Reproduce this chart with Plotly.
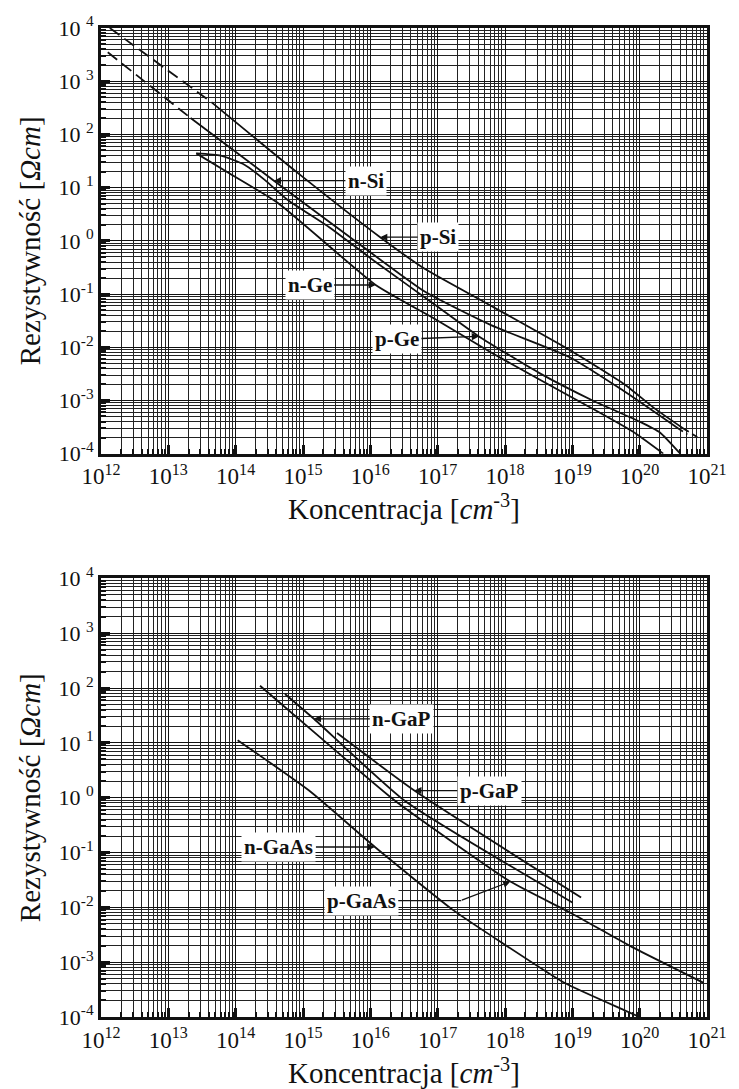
import math
import plotly.graph_objects as go

# ---------------- data ----------------
# Top panel: Si and Ge, resistivity [Ohm cm] vs concentration [cm^-3]
p_si_dash1_x = [1.35e12, 4.4e13]
p_si_dash1_y = [1.0e4, 4.0e2]
p_si_x = [4.4e13, 7.9e14, 1.4e16, 6.5e16, 4.9e17, 9.1e18, 6.0e19, 1.66e20, 4.5e20]
p_si_y = [400, 20, 1.17, 0.295, 0.071, 8.9e-3, 2.0e-3, 7.1e-4, 2.95e-4]
p_si_dash2_x = [4.5e20, 7.9e20]
p_si_dash2_y = [2.95e-4, 1.9e-4]

n_si_dash1_x = [1.26e12, 2.14e13]
n_si_dash1_y = [3.5e3, 204]
n_si_x = [2.14e13, 3.7e14, 5.0e15, 6.5e16, 6.2e17, 9.1e18, 5.4e19, 3.7e20]
n_si_y = [204, 13.5, 1.17, 0.11, 0.026, 6.5e-3, 1.6e-3, 3.0e-4]
n_si_dash2_x = [3.7e20, 5.1e20]
n_si_dash2_y = [3.0e-4, 2.3e-4]

p_ge_x = [2.6e13, 6.0e13, 1.35e14, 2.7e14, 5.8e14, 2.45e15, 1.2e16, 9.1e16, 4.1e17, 3.2e18, 2.0e19, 1.0e20, 2.0e20, 4.0e20]
p_ge_y = [44, 40, 27, 14, 6.0, 1.8, 0.40, 0.063, 0.016, 3.3e-3, 1.0e-3, 4.0e-4, 2.5e-4, 1.0e-4]

n_ge_x = [2.6e13, 7.8e13, 4.2e14, 1.2e16, 9.1e16, 6.3e17, 3.2e18, 2.0e19, 7.9e19, 2.24e20]
n_ge_y = [44, 19, 5.2, 0.148, 0.034, 7.9e-3, 2.5e-3, 7.0e-4, 2.6e-4, 1.0e-4]

# Bottom panel: GaP and GaAs
p_gaas_x = [2.3e14, 2.5e15, 2.3e16, 1.2e18, 9.5e18, 7.9e19, 8.9e20]
p_gaas_y = [110, 8.9, 0.89, 0.0295, 7.9e-3, 1.86e-3, 4.2e-4]

n_gap_x = [5.4e14, 1.45e15, 3.2e16, 1.0e19]
n_gap_y = [78, 27.5, 0.89, 0.0123]

p_gap_x = [3.2e15, 4.5e16, 1.35e19]
p_gap_y = [15.1, 1.35, 0.0151]

n_gaas_x = [1.07e14, 1.23e15, 1.17e16, 1.7e17, 9.1e17, 7.6e18, 5.75e19, 1.0e20]
n_gaas_y = [11.2, 1.35, 0.126, 8.9e-3, 2.24e-3, 4.2e-4, 1.35e-4, 1.0e-4]

x_tick_vals = [1e12, 1e13, 1e14, 1e15, 1e16, 1e17, 1e18, 1e19, 1e20, 1e21]
x_tick_text = ["10<sup>%d</sup>" % e for e in range(12, 22)]
y_tick_vals = [1e-4, 1e-3, 1e-2, 1e-1, 1e0, 1e1, 1e2, 1e3, 1e4]
y_tick_text = ["10<sup>-4</sup>", "10<sup>-3</sup>", "10<sup>-2</sup>", "10<sup>-1</sup>",
               "10 <sup>0</sup>", "10 <sup>1</sup>", "10 <sup>2</sup>", "10 <sup>3</sup>", "10 <sup>4</sup>"]

# ---------------- figure ----------------
SERIF = "Liberation Serif, Times New Roman, serif"
INK = "#111"
fig = go.Figure()


def add_line(x, y, axis, dash="solid", width=1.8):
    fig.add_trace(go.Scatter(
        x=x, y=y, mode="lines", xaxis="x" + axis, yaxis="y" + axis,
        line=dict(color=INK, width=width, dash=dash, shape="spline", smoothing=0.5),
        showlegend=False, hoverinfo="skip"))


# top panel
add_line(p_si_dash1_x, p_si_dash1_y, "", dash="12px,6px")
add_line(p_si_x, p_si_y, "")
add_line(p_si_dash2_x, p_si_dash2_y, "", dash="6px,4px")
add_line(n_si_dash1_x, n_si_dash1_y, "", dash="12px,6px")
add_line(n_si_x, n_si_y, "")
add_line(n_si_dash2_x, n_si_dash2_y, "", dash="6px,4px")
add_line(p_ge_x, p_ge_y, "")
add_line(n_ge_x, n_ge_y, "")
# bottom panel
add_line(p_gaas_x, p_gaas_y, "2")
add_line(n_gap_x, n_gap_y, "2")
add_line(p_gap_x, p_gap_y, "2")
add_line(n_gaas_x, n_gaas_y, "2")


def xaxis_style(anchor):
    return dict(
        type="log", range=[12, 21], anchor=anchor,
        tickvals=x_tick_vals, ticktext=x_tick_text,
        ticks="inside", ticklen=9, tickwidth=3, tickcolor=INK,
        tickfont=dict(family=SERIF, size=23, color=INK),
        showgrid=True, gridcolor="#111", gridwidth=1.4,
        minor=dict(dtick="D1", showgrid=True, gridcolor="#222", gridwidth=1.1,
                   ticks="inside", ticklen=5, tickwidth=2, tickcolor=INK),
        showline=True, linecolor=INK, linewidth=3, mirror=True,
        zeroline=False,
        title=dict(text="Koncentracja [<i>cm</i><sup>-3</sup>]",
                   font=dict(family=SERIF, size=29, color=INK), standoff=0),
    )


def yaxis_style(anchor, domain):
    return dict(
        type="log", range=[-4, 4], anchor=anchor, domain=domain,
        tickvals=y_tick_vals, ticktext=y_tick_text,
        ticks="inside", ticklen=9, tickwidth=3, tickcolor=INK,
        tickfont=dict(family=SERIF, size=22, color=INK),
        showgrid=True, gridcolor="#111", gridwidth=1.4,
        minor=dict(dtick="D1", showgrid=True, gridcolor="#222", gridwidth=1.1,
                   ticks="inside", ticklen=5, tickwidth=2, tickcolor=INK),
        showline=True, linecolor=INK, linewidth=3, mirror=True,
        zeroline=False,
        title=dict(text="Rezystywność [<i>Ωcm</i>]",
                   font=dict(family=SERIF, size=29, color=INK), standoff=10),
    )


fig.update_layout(
    width=739, height=1089,
    paper_bgcolor="white", plot_bgcolor="white",
    margin=dict(l=101, r=21, t=25, b=72),
    xaxis=xaxis_style("y"),
    yaxis=yaxis_style("x", [0.5696, 1.0]),
    xaxis2=xaxis_style("y2"),
    yaxis2=yaxis_style("x2", [0.0, 0.4435]),
    showlegend=False,
)

LABEL_FONT = dict(family=SERIF, size=21, color=INK)


def label(text, x, y, ax, ay, axis=""):
    fig.add_annotation(
        x=math.log10(x), y=math.log10(y), xref="x" + axis, yref="y" + axis,
        text="<b>%s</b>" % text, showarrow=True, ax=ax, ay=ay,
        arrowhead=2, arrowsize=1.1, arrowwidth=1.3, arrowcolor=INK,
        bgcolor="white", borderpad=2, font=LABEL_FONT)


label("n-Si", n_si_x[1], n_si_y[1], 92, 0)
label("p-Si", p_si_x[2], p_si_y[2], 58, 0)
label("n-Ge", n_ge_x[3], n_ge_y[3], -66, 0)
label("p-Ge", p_ge_x[8], p_ge_y[8], -82, 3)
label("n-GaP", n_gap_x[1], n_gap_y[1], 88, 0, "2")
label("p-GaP", p_gap_x[1], p_gap_y[1], 75, 0, "2")
label("n-GaAs", n_gaas_x[2], n_gaas_y[2], -96, 0, "2")

# p-GaAs: label with a bent leader (horizontal, then slanted up to the curve)
tip_x, tip_y = math.log10(p_gaas_x[3]), math.log10(p_gaas_y[3])
fig.add_annotation(x=tip_x, y=tip_y, xref="x2", yref="y2", text="",
                   showarrow=True, ax=-50, ay=19, arrowhead=2, arrowsize=1.1,
                   arrowwidth=1.3, arrowcolor=INK, standoff=0)
bend_x = tip_x - 50 / 68.6
bend_y = tip_y - 19 / 55.0
fig.add_annotation(x=bend_x, y=bend_y, xref="x2", yref="y2", text="<b>p-GaAs</b>",
                   showarrow=True, ax=-100, ay=0, arrowhead=0, arrowwidth=1.3,
                   arrowcolor=INK, standoff=0, bgcolor="white", borderpad=2,
                   font=LABEL_FONT)

fig.write_html("out.html", config={"displayModeBar": False},
               post_script="document.body.style.margin='0';")
